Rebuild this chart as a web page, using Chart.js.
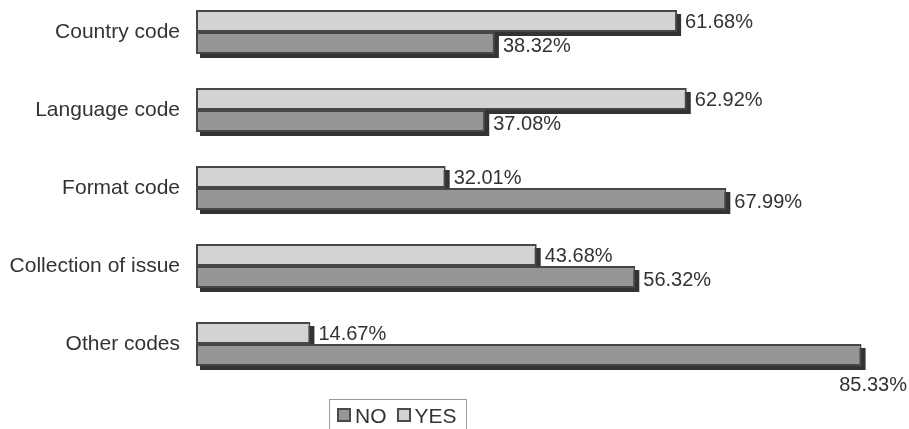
<!DOCTYPE html>
<html>
<head>
<meta charset="utf-8">
<script src="https://cdn.jsdelivr.net/npm/chart.js@4"></script>
<style>
    html, body { margin: 0; padding: 0; background: #fff; }
    #wrap { position: relative; width: 909px; height: 429px; overflow: hidden; }
    #box { position: absolute; left: 0; top: -7px; width: 909px; height: 436px; }
    #legend {
        position: absolute; left: 329px; top: 399px; width: 138px; height: 40px;
        border: 1px solid #9a9a9a; padding: 5px 0 0 7px; box-sizing: border-box;
        font: 21px/21px "Liberation Sans", Arial, sans-serif; color: #333;
        display: flex; align-items: flex-start; white-space: nowrap;
    }
    #legend span.sw {
        display: inline-block; width: 14px; height: 14px; box-sizing: border-box;
        border: 2px solid #4a4a4a; margin: 3px 4px 0 0;
    }
    #legend span.it { display: inline-flex; align-items: flex-start; margin-right: 10px; }
    #legend span.it:last-child { margin-right: 0; }
</style>
</head>
<body>
<div id="wrap">
    <div id="box"><canvas id="chart"></canvas></div>
    <div id="legend"></div>
</div>
<script>
(function () {
    // ===== Data =====
    const categories = ['Country code', 'Language code', 'Format code', 'Collection of issue', 'Other codes'];
    const yesValues = [61.68, 62.92, 32.01, 43.68, 14.67];
    const noValues = [38.32, 37.08, 67.99, 56.32, 85.33];

    const FONT = '"Liberation Sans", Arial, sans-serif';
    const TEXT = '#333';
    const SHADOW = 4;

    const fmt = (v) => v.toFixed(2) + '%';

    // drop shadow under each bar, drawn before bars so the next bar covers it
    const shadowPlugin = {
        id: 'shadows',
        beforeDatasetsDraw(chart) {
            const ctx = chart.ctx;
            ctx.save();
            ctx.fillStyle = '#333333';
            chart.data.datasets.forEach((ds, i) => {
                chart.getDatasetMeta(i).data.forEach(el => {
                    const { x, y, base, height } = el.getProps(['x', 'y', 'base', 'height'], true);
                    const l = Math.min(x, base), r = Math.max(x, base);
                    ctx.fillRect(l + SHADOW, y - height / 2 + SHADOW, r - l, height);
                });
            });
            ctx.restore();
        }
    };

    // value labels at bar ends
    const labelPlugin = {
        id: 'valueLabels',
        afterDatasetsDraw(chart) {
            const ctx = chart.ctx;
            ctx.save();
            ctx.font = '20px ' + FONT;
            ctx.fillStyle = TEXT;
            ctx.textBaseline = 'middle';
            chart.data.datasets.forEach((ds, i) => {
                const dy = i === 0 ? 1 : 3;
                chart.getDatasetMeta(i).data.forEach((el, j) => {
                    const { x, y, height } = el.getProps(['x', 'y', 'height'], true);
                    const txt = fmt(ds.data[j]);
                    const w = ctx.measureText(txt).width;
                    const tx = x + SHADOW + 4;
                    if (tx + w > chart.width - 2) {
                        // no room on the right: put it under the bar
                        ctx.textAlign = 'right';
                        ctx.fillText(txt, chart.width - 2, y + height / 2 + SHADOW + 15);
                    } else {
                        ctx.textAlign = 'left';
                        ctx.fillText(txt, tx, y + dy);
                    }
                });
            });
            ctx.restore();
        }
    };

    const chart = new Chart(document.getElementById('chart'), {
        type: 'bar',
        data: {
            labels: categories,
            datasets: [
                { label: 'YES', data: yesValues, backgroundColor: '#d3d3d3' },
                { label: 'NO', data: noValues, backgroundColor: '#969696' }
            ]
        },
        options: {
            indexAxis: 'y',
            responsive: true,
            maintainAspectRatio: false,
            animation: false,
            layout: { padding: { left: 0, right: 11, top: 0, bottom: 46 } },
            datasets: {
                bar: {
                    borderColor: '#474747', borderWidth: 2, borderSkipped: false,
                    barPercentage: 1, categoryPercentage: 0.564
                }
            },
            scales: {
                x: { display: false, min: 0, max: 90 },
                y: {
                    grid: { display: false, drawTicks: false },
                    border: { display: false },
                    ticks: { color: TEXT, padding: 16, font: { family: FONT, size: 21 } },
                    afterFit(scale) {
                        scale.width = 196;
                        scale.paddingTop = 0;
                        scale.paddingBottom = 0;
                    }
                }
            },
            plugins: {
                legend: { display: false, reverse: true },
                tooltip: { enabled: false }
            }
        },
        plugins: [shadowPlugin, labelPlugin]
    });

    // legend box (NO first, YES second)
    const lg = document.getElementById('legend');
    chart.data.datasets.slice().reverse().forEach(ds => {
        const it = document.createElement('span');
        it.className = 'it';
        it.innerHTML = `<span class="sw" style="background:${ds.backgroundColor}"></span>${ds.label}`;
        lg.appendChild(it);
    });
})();
</script>
</body>
</html>
